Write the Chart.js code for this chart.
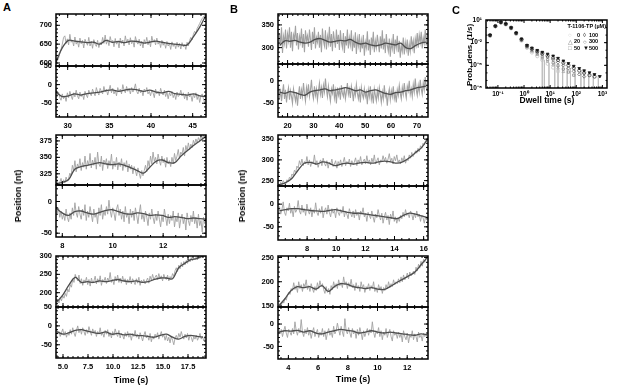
<!DOCTYPE html>
<html><head><meta charset="utf-8">
<script src="https://cdn.jsdelivr.net/npm/chart.js@4.4.1/dist/chart.umd.min.js"></script>
<style>
html,body{margin:0;padding:0;background:#fff;}
body{width:617px;height:389px;position:relative;overflow:hidden;font-family:"Liberation Sans",Arial,sans-serif;}
canvas{position:absolute;}
.t{position:absolute;font-weight:bold;color:#000;white-space:nowrap;transform:translate(-50%,-50%);}
.r{transform:translate(-50%,-50%) rotate(-90deg);}
.L{position:absolute;font-weight:bold;font-size:11px;color:#000;}
.lg{position:absolute;font-weight:bold;color:#000;font-size:5.5px;white-space:nowrap;line-height:1;}
</style></head><body>
<script>
// ---------------- Panel A ----------------
const A1_xTicks = [30, 35, 40, 45];
const A1_topTicks = [600, 650, 700];
const A1_botTicks = [-50, 0, 50];
const A1_noisyTop = [600,606,612,625,636,650,668,
672,652,664,648,676,655,661,645,669,650,658,642,666,651,660,640,663,655,647,668,645,658,639,662,650,644,660,641,655,648,
668,652,674,650,662,646,670,655,660,643,665,650,658,640,666,652,661,645,672,654,663,648,667,651,659,642,670,656,650,663,
645,658,640,662,651,668,648,660,643,671,655,662,648,666,650,658,641,660,647,655,639,657,645,652,636,656,644,650,638,655,
642,652,637,654,643,649,636,655,645,660,
668,662,676,684,679,692,698,705,712,718,722,727,730];
const A1_smoothTop = [603,640,660,658,656,654,655,650,660,655,657,654,658,657,653,655,658,655,652,650,648,648,670,695,727];
const A1_noisyBot = [-12,-28,-20,-35,-42,-25,-38,-30,-45,-22,-35,-18,-30,-40,-22,-33,-15,-30,-38,-20,-32,-25,-40,-18,-28,-35,-15,-25,-30,-12,
-22,-30,-8,-20,-28,-10,-18,-25,-5,-20,-12,-28,-15,-2,-22,-10,-25,-15,-30,-8,-20,-12,-25,0,-15,-22,-5,-18,-10,-25,
-8,-20,-12,2,-18,-25,-10,-22,-15,-30,-12,-20,-8,-25,-18,-30,-15,-22,-35,-12,-25,-18,-30,-10,-22,-28,-15,-32,-20,-38,
-22,-30,-18,-35,-25,-40,-20,-32,-28,-15,-30,-22,-38,-25,-42,-20,-33,-28,-45,-25,-35,-22,-40,-28,-48,-30,-25,-38,-50,-30];
const A1_smoothBot = [-20,-32,-30,-25,-28,-24,-22,-20,-16,-14,-18,-15,-12,-14,-18,-15,-20,-22,-18,-24,-26,-28,-25,-30,-32];

const A2_xTicks = [8, 10, 12];
const A2_topTicks = [325, 350, 375];
const A2_botTicks = [-50, 0];
const A2_noisyTop = [308,315,306,312,318,309,316,311,320,314,318,326,322,338,330,345,328,340,334,348,
330,342,335,352,332,345,338,356,334,346,338,350,332,358,340,336,352,330,346,340,
348,333,345,338,355,332,344,336,350,331,343,336,348,330,342,335,345,328,340,332,
338,325,336,330,322,334,326,318,330,322,330,338,328,345,336,352,340,358,344,350,
340,355,345,338,352,342,348,335,350,340,345,336,350,340,356,345,352,362,348,358,
355,365,352,368,360,372,362,370,365,376,370,378,372,380,375,383,378,384,380,384];
const A2_smoothTop = [310,312,316,332,336,338,340,342,340,339,340,338,334,330,326,335,344,346,342,342,352,360,368,375,382];
const A2_noisyBot = [-5,-18,-10,-25,-15,-28,-20,-30,-12,-25,-32,-18,-28,-10,-22,-2,-18,-25,-8,-20,
-28,-12,-22,-5,-30,-15,-25,-8,-20,-32,-12,-25,-18,-35,-10,-22,-5,-28,-15,-22,
-8,-20,2,-15,-25,-10,-18,-30,-12,-5,-22,-12,-28,-15,-32,-8,-25,-18,-35,-12,
-25,-15,-30,-10,-22,-35,-18,-5,-28,-20,-32,-15,-25,-38,-18,-28,-12,-25,-35,-20,
-30,-15,-28,-40,-22,-32,-12,-25,-38,-20,-35,-22,-30,-15,-40,-25,-32,-18,-42,-28,
-20,-35,-25,-45,-18,-30,-38,-22,-32,-15,-35,-25,-42,-20,-38,-30,-48,-25,-35,-30];
const A2_smoothBot = [-10,-18,-22,-16,-15,-18,-20,-17,-14,-13,-16,-19,-20,-18,-19,-22,-21,-22,-25,-24,-25,-27,-26,-27,-28];

const A3_xTicks = [5, 7.5, 10, 12.5, 15, 17.5];
const A3_xLabels = ['5.0', '7.5', '10.0', '12.5', '15.0', '17.5'];
const A3_topTicks = [200, 250, 300];
const A3_botTicks = [-50, 0, 50];
const A3_noisyTop = [168,180,172,186,178,192,185,198,190,210,202,222,215,238,228,250,
240,232,248,225,238,220,235,228,242,222,236,218,240,226,232,245,
224,238,228,246,220,236,230,242,225,240,232,255,228,236,222,244,
232,248,228,240,226,245,230,238,222,236,228,244,224,238,230,222,
238,226,242,220,234,228,236,224,232,240,226,245,234,250,236,242,
248,236,252,238,246,232,250,240,236,248,232,244,238,252,245,260,
268,258,275,265,282,270,285,276,288,280,292,284,296,287,294,290,
298,290,300,294,300,296,300,298];
const A3_smoothTop = [175,195,222,242,228,230,228,232,230,233,236,232,230,232,228,230,236,240,240,238,268,280,290,293,300];
const A3_noisyBot = [-10,-22,-15,-28,-18,-8,-25,-15,-30,-18,-25,-10,-22,-5,-18,-28,
-12,0,-18,-8,-22,-5,-15,-25,-10,-20,-2,-15,-25,-8,-18,-12,
-28,-15,-22,-5,-25,-18,-30,-12,-22,-10,-28,-18,-32,-15,-25,-8,
-20,-28,-12,-32,-20,-25,-35,-18,-28,-15,-30,-22,-38,-20,-28,-12,
-30,-22,-35,-18,-28,-40,-25,-15,-32,-25,-38,-20,-42,-28,-35,-22,
-30,-18,-35,-25,-15,-30,-22,-38,-25,-40,-30,-45,-28,-38,-50,-32,
-25,-35,-20,-30,-15,-28,-35,-22,-32,-20,-38,-25,-30,-42,-28,-35,
-25,-38,-30,-20,-35,-28,-40,-30];
const A3_smoothBot = [-15,-22,-18,-12,-10,-14,-18,-20,-16,-22,-20,-24,-22,-25,-26,-28,-30,-25,-22,-30,-35,-28,-25,-28,-30];

// ---------------- Panel B ----------------
const B1_xTicks = [20, 30, 40, 50, 60, 70];
const B1_topTicks = [300, 350];
const B1_botTicks = [-50, 0];
const B1_noisyTop = [295,332,305,345,288,325,310,340,298,330,315,345,300,335,292,328,318,348,305,332,
296,325,312,342,300,330,290,338,315,326,302,340,318,295,335,308,345,298,322,312,
335,300,328,290,342,315,304,338,296,325,310,346,302,330,292,336,318,300,340,308,
328,295,338,312,300,332,288,325,305,340,298,322,306,338,292,318,300,334,286,320,
304,330,290,316,298,328,282,312,300,336,294,318,284,322,305,335,290,315,300,328,
310,290,325,298,338,296,320,288,330,305,292,320,280,312,298,330,286,318,300,326,
290,315,278,305,292,322,285,312,296,318,282,308,292,325,300,315,288,320,306,332,
300,328,312,335,298,322,310,340,305,330];
const B1_smoothTop = [305,315,314,316,312,310,312,318,320,316,312,314,316,315,318,312,308,310,306,304,306,310,308,306,310,300,298,305,310,312];
const B1_noisyBot = [-10,-38,-18,-45,-25,-8,-40,-20,-48,-28,-15,-42,-22,-35,-50,-18,-32,-45,-25,-55,
-30,-12,-40,-20,-35,-5,-28,-45,-15,-30,-8,-35,-20,2,-28,-40,-12,-32,-18,-42,
-22,-5,-30,-15,-38,-10,-25,5,-20,-35,-12,-30,-45,-18,-28,-8,-38,-22,-50,-15,
-32,-20,-42,-10,-28,-35,-15,-40,-25,-5,-30,-18,-38,-12,-25,-45,-20,-32,-8,-28,
-40,-22,-48,-15,-30,-38,-18,-35,-25,-52,-20,-35,-12,-42,-28,-50,-18,-32,-45,-22,
-38,-15,-30,-48,-25,-40,-10,-35,-28,-55,-30,-18,-42,-22,-35,-12,-40,-28,-48,-20,
-32,-10,-28,-40,-15,-30,-5,-25,-38,-12,-22,0,-30,-18,-35,-8,-25,5,-20,-32,
-10,-25,2,-18,-30,-5,-20,8,-15,-22];
const B1_smoothBot = [-25,-28,-24,-26,-30,-32,-25,-22,-20,-18,-22,-20,-18,-15,-18,-22,-20,-25,-22,-20,-24,-28,-30,-26,-25,-22,-20,-16,-14,-12];

const B2_xTicks = [8, 10, 12, 14, 16];
const B2_topTicks = [250, 300, 350];
const B2_botTicks = [-50, 0];
const B2_noisyTop = [238,246,240,250,244,242,252,248,258,254,266,262,
275,270,285,280,298,288,302,286,296,290,308,288,
300,284,296,290,312,288,298,282,294,300,286,304,
292,285,298,280,294,288,302,284,290,298,280,296,
288,300,284,294,306,286,296,290,302,284,298,288,
295,305,286,300,292,308,288,296,302,290,310,292,
300,288,304,294,312,290,298,305,288,300,296,310,
298,306,292,302,315,296,304,290,308,298,312,294,
300,290,305,296,310,292,302,298,312,304,318,308,
314,322,316,328,320,334,328,340,336,346,344,352];
const B2_smoothTop = [240,245,255,275,292,294,290,295,292,286,290,292,290,293,294,292,295,297,295,292,296,305,318,330,352];
const B2_noisyBot = [-5,-22,-12,5,-18,-25,-8,-15,2,-20,-10,-28,
-5,-18,-12,8,-15,-22,-2,-18,-10,-25,0,-15,
-22,-8,-28,-12,-20,3,-18,-25,-10,-20,-5,-30,
-15,-8,-22,-2,-18,-28,-10,-20,-14,-30,-8,-18,
-25,-12,-20,-5,-28,-15,-22,-32,-10,-20,-28,-15,
-30,-12,-25,-18,-35,-15,-22,-8,-28,-20,-38,-18,
-25,-32,-15,-28,-40,-22,-30,-12,-25,-35,-20,-42,
-28,-18,-35,-25,-45,-22,-32,-15,-38,-28,-42,-30,
-38,-25,-32,-18,-28,-12,-25,-20,-30,-15,-22,-35,
-20,-30,-15,-28,-22,-38,-25,-30,-42,-28,-35,-30];
const B2_smoothBot = [-15,-12,-10,-10,-12,-14,-15,-16,-14,-12,-15,-18,-20,-20,-22,-24,-26,-28,-30,-32,-25,-20,-22,-26,-30];

const B3_xTicks = [4, 6, 8, 10, 12];
const B3_topTicks = [150, 200, 250];
const B3_botTicks = [-50, 0];
const B3_noisyTop = [148,155,150,160,156,166,162,172,178,174,186,182,
198,184,192,178,200,186,194,180,196,190,204,184,
192,180,196,186,178,190,182,198,186,202,190,196,
184,176,190,178,186,174,192,184,200,188,196,186,
204,192,198,188,210,194,200,186,198,190,205,188,
194,182,198,186,192,180,200,188,194,178,190,186,
196,182,192,186,200,180,188,178,194,184,190,176,
188,182,194,185,200,188,196,190,204,194,200,196,
206,198,210,200,214,204,208,218,206,220,212,216,
222,215,230,222,236,228,242,232,246,240,250,252];
const B3_smoothTop = [150,165,182,190,188,190,185,192,180,190,196,195,190,188,186,188,185,184,190,198,205,212,220,235,250];
const B3_noisyBot = [-8,-22,-12,-28,-15,-5,-20,-30,-12,-18,-25,-10,
-22,5,-15,-25,-10,-20,10,-18,-28,-12,-22,-8,
-25,-15,-32,-18,-8,-28,-20,-12,-30,-18,-25,-10,
-28,-15,-35,-20,-10,-25,-18,-30,-5,-22,-15,2,
-12,-25,-5,-18,-28,12,-15,-22,-8,-20,-30,-10,
-22,-15,-32,-12,-25,-8,-20,-35,-15,-28,-18,-10,
-25,-12,-20,5,-18,-30,-15,-22,-8,-28,-15,-35,
-18,-25,-10,-30,-20,-12,-28,-38,-15,-25,-20,-32,
-18,-30,-22,-40,-15,-28,-35,-20,-42,-25,-30,-15,
-35,-22,-28,-40,-18,-30,-25,-38,-20,-28,-22,-30];
const B3_smoothBot = [-18,-15,-16,-14,-18,-15,-20,-22,-18,-15,-12,-14,-16,-20,-18,-15,-18,-20,-18,-20,-22,-24,-25,-22,-24];

// ---------------- Panel C ----------------
const C_dwell = [0.05,0.08,0.13,0.2,0.32,0.5,0.8,1.3,2,3.2,5,8,13,20,32,50,80,130,200,320,500,800];
const C_conc = ['0', '20', '50', '100', '300', '500'];
const C_p0   = [7.9e-2,1.4,4.5,2.5,0.76,0.14,0.018,2.0e-3,5.0e-4,1.6e-4,5.0e-5,1.6e-5,5.0e-6,1.6e-6,null,null,null,null,null,null,null,null];
const C_p20  = [7.9e-2,1.4,4.6,2.6,0.79,0.15,0.020,2.5e-3,7.1e-4,2.5e-4,8.9e-5,3.2e-5,1.1e-5,4.0e-6,1.4e-6,null,null,null,null,null,null,null];
const C_p50  = [8.9e-2,1.5,4.8,2.8,0.83,0.16,0.022,2.8e-3,8.9e-4,3.5e-4,1.4e-4,5.6e-5,2.2e-5,8.9e-6,3.2e-6,1.3e-6,5.0e-7,null,null,null,null,null];
const C_p100 = [8.9e-2,1.5,4.8,2.9,0.89,0.18,0.025,3.5e-3,1.3e-3,5.6e-4,2.8e-4,1.3e-4,5.6e-5,2.5e-5,1.0e-5,4.0e-6,1.6e-6,6.3e-7,3.2e-7,null,null,null];
const C_p300 = [1.0e-1,1.6,5.0,3.0,0.95,0.19,0.028,4.0e-3,1.6e-3,7.6e-4,4.0e-4,2.0e-4,1.0e-4,5.0e-5,2.2e-5,1.0e-5,4.5e-6,2.0e-6,1.0e-6,5.0e-7,3.2e-7,null];
const C_p500 = [1.0e-1,1.6,5.0,3.2,1.0,0.2,0.032,4.5e-3,2.0e-3,1.0e-3,5.6e-4,3.2e-4,1.8e-4,8.9e-5,4.0e-5,1.8e-5,7.9e-6,4.0e-6,2.0e-6,1.1e-6,6.3e-7,3.5e-7];
const C_dropX   = [5, 6, 9, 15, 20, 30, 45, 60, 90, 150, 200, 300, 450, 700];
const C_dropTop = [1e-4, 5e-5, 2e-5, 3e-5, 1e-5, 1e-5, 5e-6, 4e-6, 3e-6, 2e-6, 1.5e-6, 1e-6, 8e-7, 5e-7];
const C_floor = 1e-8;
const C_xTicks = [0.1, 1, 10, 100, 1000];
const C_xLabels = ['10⁻¹', '10⁰', '10¹', '10²', '10³'];
const C_yTicks = [1e-8, 1e-5, 1e-2, 1e1];
const C_yLabels = ['10⁻⁸', '10⁻⁵', '10⁻²', '10¹'];

// ---------------- drawing ----------------
const FONT = '"Liberation Sans", Arial, sans-serif';
const NOISY = '#a2a2a2', SMOOTH = '#4e4e4e';

function minorVals(scale, step) {
  const out = [];
  if (!step) return out;
  if (step === 'log' || step === 'dec') {
    const k0 = Math.floor(Math.log10(scale.min)), k1 = Math.ceil(Math.log10(scale.max));
    for (let k = k0; k <= k1; k++) {
      if (step === 'dec') out.push(Math.pow(10, k));
      else for (let m = 2; m <= 9; m++) out.push(m * Math.pow(10, k));
    }
    return out;
  }
  for (let v = Math.ceil(scale.min / step) * step; v <= scale.max + 1e-9; v += step) out.push(v);
  return out;
}

const frameTicks = {
  id: 'frameTicks',
  afterDraw(chart, args, o) {
    const {ctx, chartArea: a} = chart;
    const xs = chart.scales.x, ys = chart.scales.y;
    ctx.save();
    ctx.strokeStyle = '#000';
    const seg = (x1, y1, x2, y2) => { ctx.beginPath(); ctx.moveTo(x1, y1); ctx.lineTo(x2, y2); ctx.stroke(); };
    const inX = p => p >= a.left + 1 && p <= a.right - 1;
    const inY = p => p >= a.top + 1 && p <= a.bottom - 1;
    ctx.lineWidth = 1;
    const drawX = (vals, len) => vals.forEach(v => { const p = xs.getPixelForValue(v); if (inX(p)) { seg(p, a.bottom, p, a.bottom - len); seg(p, a.top, p, a.top + len); } });
    const drawY = (vals, len) => vals.forEach(v => { const p = ys.getPixelForValue(v); if (inY(p)) { seg(a.left, p, a.left + len, p); seg(a.right, p, a.right - len, p); } });
    drawX(minorVals(xs, o.xMinor), o.minor);
    drawY(minorVals(ys, o.yMinor), o.minor);
    drawX(xs.ticks.map(t => t.value), o.major);
    drawY(ys.ticks.map(t => t.value), o.major);
    ctx.lineWidth = 1.5;
    ctx.strokeRect(a.left, a.top, a.right - a.left, a.bottom - a.top);
    ctx.restore();
  }
};

function series(t0, t1, vals) {
  const n = vals.length;
  return vals.map((v, i) => ({x: t0 + (t1 - t0) * i / (n - 1), y: v}));
}

function subplot(frame, o) {
  const padL = o.padL || 40, padT = 6, padR = 6, padB = o.showX ? (o.xh || 16) : 6;
  const cv = document.createElement('canvas');
  const w = frame[2] - frame[0] + padL + padR, h = frame[3] - frame[1] + padT + padB;
  cv.width = w; cv.height = h; cv.style.width = w + 'px'; cv.style.height = h + 'px';
  cv.style.left = (frame[0] - padL) + 'px'; cv.style.top = (frame[1] - padT) + 'px';
  document.body.appendChild(cv);
  const fs = o.fontSize || 7.5;
  new Chart(cv, {
    type: 'line',
    data: {datasets: o.datasets},
    options: {
      responsive: false, animation: false, devicePixelRatio: 1, events: [],
      layout: {autoPadding: false, padding: {left: 0, top: padT, right: padR, bottom: o.showX ? 0 : padB}},
      plugins: {legend: {display: false}, tooltip: {enabled: false},
        frameTicks: {xMinor: o.xMinor, yMinor: o.yMinor, major: o.major || 4, minor: o.minor || 2}},
      scales: {
        x: {type: o.xType || 'linear', min: o.xRange[0], max: o.xRange[1],
          afterBuildTicks: s => { s.ticks = o.xTicks.map(v => ({value: v})); },
          afterFit: s => { s.height = o.showX ? padB : 0; s.paddingLeft = 0; s.paddingRight = 0; },
          grid: {display: false, drawTicks: false}, border: {display: false},
          ticks: {display: !!o.showX, autoSkip: false, maxRotation: 0, padding: o.xPad || 4, color: '#000',
            font: {family: FONT, size: fs, weight: 'bold'},
            callback: (v, i) => o.xLabels ? o.xLabels[i] : String(v)}},
        y: {type: o.yType || 'linear', min: o.yRange[0], max: o.yRange[1],
          afterBuildTicks: s => { s.ticks = o.yTicks.map(v => ({value: v})); },
          afterFit: s => { s.width = padL; s.paddingTop = 0; s.paddingBottom = 0; },
          grid: {display: false, drawTicks: false}, border: {display: false},
          ticks: {autoSkip: false, padding: 4, color: '#000',
            font: {family: FONT, size: fs, weight: 'bold'},
            callback: (v, i) => o.yLabels ? o.yLabels[i] : String(v)}}
      }
    },
    plugins: [frameTicks]
  });
}

function traceSets(t0, t1, noisy, s0, s1, smooth, nw) {
  return [
    {data: series(s0, s1, smooth), borderColor: SMOOTH, borderWidth: 1.3, pointRadius: 0, tension: 0.35},
    {data: series(t0, t1, noisy), borderColor: NOISY, borderWidth: nw || 0.9, pointRadius: 0, tension: 0}
  ];
}

function pair(frames, p) {
  subplot(frames[0], {xRange: p.xRange, xTicks: p.xTicks, xMinor: p.xMinor, yRange: p.topRange, yTicks: p.topTicks, yMinor: p.topMinor,
    datasets: traceSets(p.t[0], p.t[1], p.noisyTop, p.s[0], p.s[1], p.smoothTop, p.nw)});
  subplot(frames[1], {xRange: p.xRange, xTicks: p.xTicks, xLabels: p.xLabels, xMinor: p.xMinor, showX: true, yRange: p.botRange, yTicks: p.botTicks, yMinor: 10,
    datasets: traceSets(p.t[0], p.t[1], p.noisyBot, p.s[0], p.s[1], p.smoothBot, p.nw)});
}

pair([[56,14,206,66],[56,66,206,117]], {xRange:[28.6,46.6], xTicks:A1_xTicks, xMinor:1, topRange:[592,730], topTicks:A1_topTicks, topMinor:10, botRange:[-87,50], botTicks:A1_botTicks,
  t:[28.6,46.6], s:[28.6,46.6], noisyTop:A1_noisyTop, smoothTop:A1_smoothTop, noisyBot:A1_noisyBot, smoothBot:A1_smoothBot});
pair([[56,135,206,185],[56,185,206,237]], {xRange:[7.75,13.7], xTicks:A2_xTicks, xMinor:0.5, topRange:[308,384], topTicks:A2_topTicks, topMinor:5, botRange:[-56,26], botTicks:A2_botTicks,
  t:[7.75,13.7], s:[7.75,13.7], noisyTop:A2_noisyTop, smoothTop:A2_smoothTop, noisyBot:A2_noisyBot, smoothBot:A2_smoothBot});
pair([[56,256,206,307],[56,307,206,358]], {xRange:[4.3,19.3], xTicks:A3_xTicks, xLabels:A3_xLabels, xMinor:0.5, topRange:[161,300], topTicks:A3_topTicks, topMinor:10, botRange:[-85,50], botTicks:A3_botTicks,
  t:[4.35,19.2], s:[4.4,19.0], noisyTop:A3_noisyTop, smoothTop:A3_smoothTop, noisyBot:A3_noisyBot, smoothBot:A3_smoothBot});

pair([[278,14,428,64],[278,64,428,117]], {xRange:[16.3,74.3], xTicks:B1_xTicks, xMinor:2, topRange:[264,374], topTicks:B1_topTicks, topMinor:10, botRange:[-80,37], botTicks:B1_botTicks,
  t:[16.5,74.0], s:[17.0,73.5], noisyTop:B1_noisyTop, smoothTop:B1_smoothTop, noisyBot:B1_noisyBot, smoothBot:B1_smoothBot, nw:1.1});
pair([[278,135,428,186],[278,186,428,240]], {xRange:[6.0,16.3], xTicks:B2_xTicks, xMinor:0.5, topRange:[237,360], topTicks:B2_topTicks, topMinor:10, botRange:[-79,40], botTicks:B2_botTicks,
  t:[6.1,16.3], s:[6.1,16.3], noisyTop:B2_noisyTop, smoothTop:B2_smoothTop, noisyBot:B2_noisyBot, smoothBot:B2_smoothBot});
pair([[278,256,428,307],[278,307,428,359]], {xRange:[3.3,13.4], xTicks:B3_xTicks, xMinor:0.5, topRange:[148,253], topTicks:B3_topTicks, topMinor:10, botRange:[-78,38], botTicks:B3_botTicks,
  t:[3.35,13.35], s:[3.35,13.35], noisyTop:B3_noisyTop, smoothTop:B3_smoothTop, noisyBot:B3_noisyBot, smoothBot:B3_smoothBot});

// Panel C
const C_colors = ['#c6c6c6', '#a8a8a8', '#8a8a8a', '#6a6a6a', '#404040', '#111111'];
const C_styles = ['circle', 'triangle', 'rect', 'rectRot', 'circle', 'triangle'];
const C_symbols = ['○', '△', '□', '◊', '○', '▼'];
const C_vals = [C_p0, C_p20, C_p50, C_p100, C_p300, C_p500];
const dropData = [];
C_dropX.forEach((x, i) => { dropData.push({x, y: C_dropTop[i]}, {x, y: C_floor}, {x, y: null}); });
const cSets = C_vals.map((vals, k) => ({
  data: C_dwell.map((x, i) => ({x, y: vals[i]})),
  showLine: false, pointStyle: C_styles[k], rotation: k === 5 ? 180 : 0,
  pointRadius: 1.6, borderWidth: 0.8, borderColor: C_colors[k],
  backgroundColor: k === 5 ? C_colors[k] : 'rgba(255,255,255,0)'
})).reverse();
cSets.push({data: dropData, borderColor: '#bdbdbd', borderWidth: 0.8, pointRadius: 0, spanGaps: false});
subplot([486,20,607,88], {xType: 'logarithmic', xRange: [0.035, 1500], xTicks: C_xTicks, xLabels: C_xLabels, xMinor: 'log', showX: true, xh: 12, xPad: 2,
  yType: 'logarithmic', yRange: [1e-8, 10], yTicks: C_yTicks, yLabels: C_yLabels, yMinor: 'dec', padL: 22, fontSize: 6.5, major: 3, minor: 1.5,
  datasets: cSets});

// ---------------- text ----------------
function txt(s, x, y, size, cls) {
  const d = document.createElement('div');
  d.className = 't' + (cls ? ' ' + cls : '');
  d.style.left = x + 'px'; d.style.top = y + 'px'; d.style.fontSize = size + 'px';
  d.textContent = s; document.body.appendChild(d);
}
function letter(s, x, y) {
  const d = document.createElement('div'); d.className = 'L';
  d.style.left = x + 'px'; d.style.top = y + 'px'; d.textContent = s; document.body.appendChild(d);
}
letter('A', 3, 1); letter('B', 230, 3); letter('C', 452, 4);
txt('Position (nt)', 18, 196, 9, 'r');
txt('Position (nt)', 242, 196, 9, 'r');
txt('Time (s)', 131, 380, 9);
txt('Time (s)', 353, 379, 9);
txt('Prob. dens. (1/s)', 469, 55, 8, 'r');
txt('Dwell time (s)', 547, 100, 8.5);

// legend for C
const lgTitle = document.createElement('div');
lgTitle.className = 'lg'; lgTitle.style.right = (617 - 606) + 'px'; lgTitle.style.top = '24px';
lgTitle.textContent = 'T-1106-TP (µM)'; document.body.appendChild(lgTitle);
C_conc.forEach((c, i) => {
  const col = i < 3 ? 0 : 1, row = i % 3;
  const m = document.createElement('div'); m.className = 'lg';
  m.style.left = (col ? 583 : 568) + 'px'; m.style.top = (32 + row * 6.5) + 'px';
  m.style.color = C_colors[i]; m.style.fontSize = '6px'; m.textContent = C_symbols[i];
  document.body.appendChild(m);
  const l = document.createElement('div'); l.className = 'lg';
  if (col) { l.style.left = '589px'; } else { l.style.right = (617 - 580) + 'px'; }
  l.style.top = (32.5 + row * 6.5) + 'px'; l.textContent = c;
  document.body.appendChild(l);
});
</script>
</body></html>
